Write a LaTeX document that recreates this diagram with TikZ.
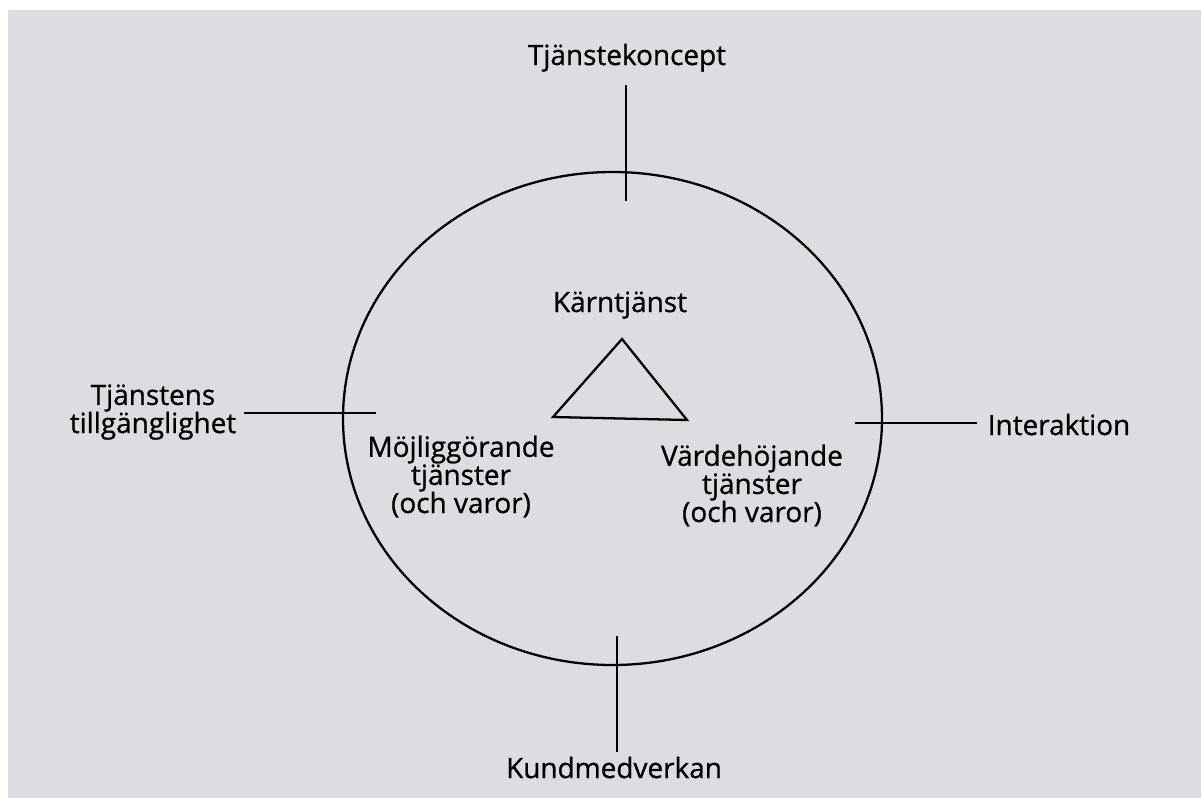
\documentclass[tikz,border=0pt]{standalone}
\usepackage{fontspec}
\setmainfont{Open Sans}
\newfontfamily\lblfont{Open Sans}[FakeBold=0.8]
\definecolor{scangray}{RGB}{221,221,225}
\begin{document}
\begin{tikzpicture}[x=0.02cm,y=-0.02cm,line width=1.3pt,
  lbl/.style={anchor=base,inner sep=0pt,align=center,
    font=\lblfont\fontsize{15.9}{16}\selectfont}]
\useasboundingbox (0,0) rectangle (1201,798);
\fill[white] (0,0) rectangle (1201,798);
\fill[scangray] (8,10) rectangle (1201,798);
\draw (612.5,418.5) ellipse [x radius=269.5, y radius=246.5];
\draw[line join=miter] (622,339) -- (553,417) -- (687,420) -- cycle;
\node[lbl] (koncept) at (627,65) {Tjänstekoncept};
\node[lbl] (kund) at (614,778) {Kundmedverkan};
\node[lbl] (inter) at (1059,435) {Interaktion};
\node[lbl] (karna) at (620,312) {Kärntjänst};
\node[lbl] (tillg) at (153,433) {Tjänstens\\tillgänglighet};
\node[lbl] (mojl) at (461,513) {Möjliggörande\\tjänster\\(och varor)};
\node[lbl] (varde) at (752,522) {Värdehöjande\\tjänster\\(och varor)};
\coordinate (top1) at (626,85);
\coordinate (top2) at (626,201);
\coordinate (bot1) at (617,636);
\coordinate (bot2) at (617,752);
\coordinate (left1) at (244,413);
\coordinate (left2) at (376,413);
\coordinate (right1) at (855,423);
\coordinate (right2) at (977,423);
\draw (top1) -- (top2);
\draw (bot1) -- (bot2);
\draw (left1) -- (left2);
\draw (right1) -- (right2);
\end{tikzpicture}
\end{document}
